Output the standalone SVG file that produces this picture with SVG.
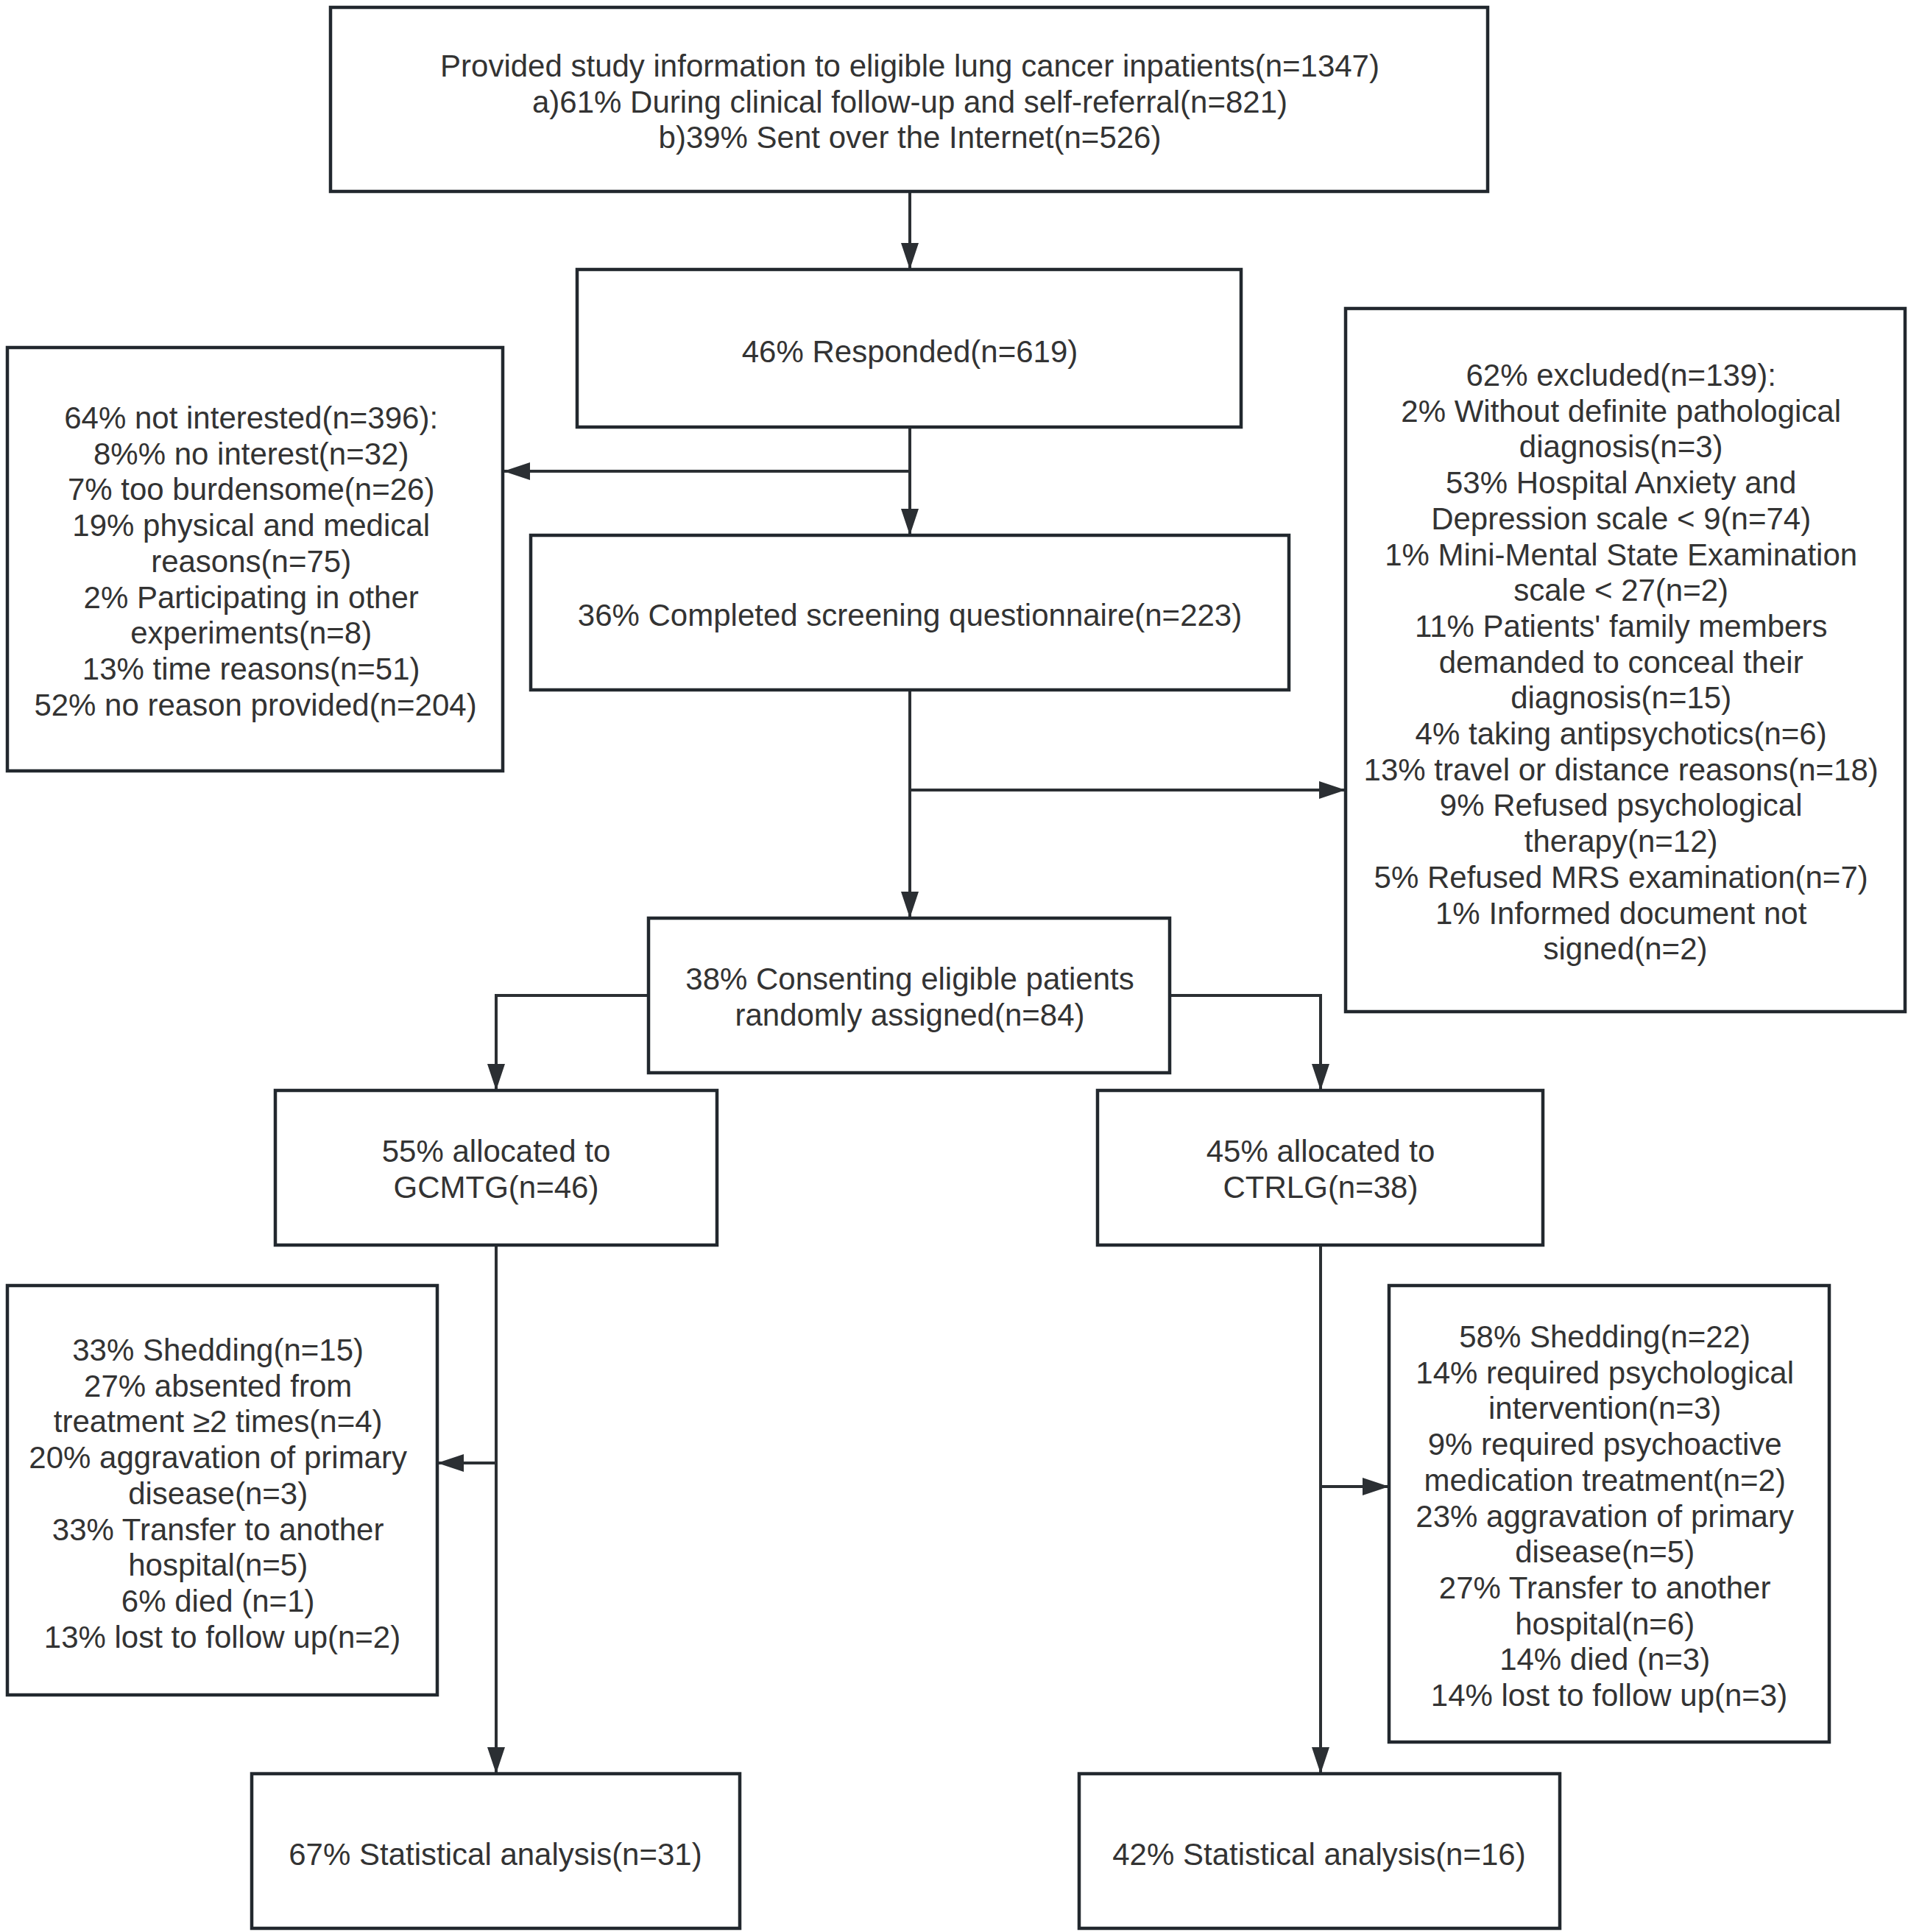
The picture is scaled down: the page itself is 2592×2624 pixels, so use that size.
<svg xmlns="http://www.w3.org/2000/svg" width="2592" height="2624" viewBox="0 0 2592 2624">
<defs>
<marker id="ah" markerUnits="userSpaceOnUse" markerWidth="36" markerHeight="26" refX="36" refY="12" orient="auto">
<path d="M0,0 L36,12 L0,24 z" fill="#2b2f33"/>
</marker>
<style>
.box{fill:#ffffff;stroke:#22282e;stroke-width:4.5}
.t{font-family:"Liberation Sans","Noto Sans",Arial,sans-serif;font-size:42px;fill:#333333;text-anchor:middle}
.c{fill:none;stroke:#2b2f33;stroke-width:4}
</style>
</defs>
<rect width="2592" height="2624" fill="#ffffff"/>
<g id="connectors">
<path class="c" d="M1236,260 V366" marker-end="url(#ah)"/>
<path class="c" d="M1236,580 V727" marker-end="url(#ah)"/>
<path class="c" d="M1236,640 H684" marker-end="url(#ah)"/>
<path class="c" d="M1236,937 V1247" marker-end="url(#ah)"/>
<path class="c" d="M1236,1073 H1828" marker-end="url(#ah)"/>
<path class="c" d="M881,1352 H674 V1481" marker-end="url(#ah)"/>
<path class="c" d="M1589,1352 H1794 V1481" marker-end="url(#ah)"/>
<path class="c" d="M674,1691 V2409" marker-end="url(#ah)"/>
<path class="c" d="M674,1987 H594" marker-end="url(#ah)"/>
<path class="c" d="M1794,1691 V2409" marker-end="url(#ah)"/>
<path class="c" d="M1794,2019 H1887" marker-end="url(#ah)"/>
</g>
<g id="n_provided">
<rect class="box" x="449" y="10" width="1572" height="250"/>
<text class="t" x="1236" y="104">Provided study information to eligible lung cancer inpatients(n=1347)</text>
<text class="t" x="1236" y="153">a)61% During clinical follow-up and self-referral(n=821)</text>
<text class="t" x="1236" y="201">b)39% Sent over the Internet(n=526)</text>
</g>
<g id="n_responded">
<rect class="box" x="784" y="366" width="902" height="214"/>
<text class="t" x="1236" y="492">46% Responded(n=619)</text>
</g>
<g id="n_notinterested">
<rect class="box" x="10" y="472" width="673" height="575"/>
<text class="t" x="347">
<tspan x="347" y="582">64% not interested(n=396):</tspan>
<tspan x="347" dy="48.7">8%% no interest(n=32)</tspan>
<tspan x="347" dy="48.7">7% too burdensome(n=26)</tspan>
<tspan x="347" dy="48.7">19% physical and medical</tspan>
<tspan x="347" dy="48.7">reasons(n=75)</tspan>
<tspan x="347" dy="48.7">2% Participating in other</tspan>
<tspan x="347" dy="48.7">experiments(n=8)</tspan>
<tspan x="347" dy="48.7">13% time reasons(n=51)</tspan>
<tspan x="347" dy="48.7">52% no reason provided(n=204)</tspan>
</text>
</g>
<g id="n_completed">
<rect class="box" x="721" y="727" width="1030" height="210"/>
<text class="t" x="1236" y="850">36% Completed screening questionnaire(n=223)</text>
</g>
<g id="n_excluded">
<rect class="box" x="1828" y="419" width="760" height="955"/>
<text class="t" x="2208">
<tspan x="2208" y="524">62% excluded(n=139):</tspan>
<tspan x="2208" dy="48.7">2% Without definite pathological</tspan>
<tspan x="2208" dy="48.7">diagnosis(n=3)</tspan>
<tspan x="2208" dy="48.7">53% Hospital Anxiety and</tspan>
<tspan x="2208" dy="48.7">Depression scale &lt; 9(n=74)</tspan>
<tspan x="2208" dy="48.7">1% Mini-Mental State Examination</tspan>
<tspan x="2208" dy="48.7">scale &lt; 27(n=2)</tspan>
<tspan x="2208" dy="48.7">11% Patients' family members</tspan>
<tspan x="2208" dy="48.7">demanded to conceal their</tspan>
<tspan x="2208" dy="48.7">diagnosis(n=15)</tspan>
<tspan x="2208" dy="48.7">4% taking antipsychotics(n=6)</tspan>
<tspan x="2208" dy="48.7">13% travel or distance reasons(n=18)</tspan>
<tspan x="2208" dy="48.7">9% Refused psychological</tspan>
<tspan x="2208" dy="48.7">therapy(n=12)</tspan>
<tspan x="2208" dy="48.7">5% Refused MRS examination(n=7)</tspan>
<tspan x="2208" dy="48.7">1% Informed document not</tspan>
<tspan x="2208" dy="48.7">signed(n=2)</tspan>
</text>
</g>
<g id="n_consenting">
<rect class="box" x="881" y="1247" width="708" height="210"/>
<text class="t" x="1236" y="1344">38% Consenting eligible patients</text>
<text class="t" x="1236" y="1393">randomly assigned(n=84)</text>
</g>
<g id="n_gcmtg">
<rect class="box" x="374" y="1481" width="600" height="210"/>
<text class="t" x="674" y="1578">55% allocated to</text>
<text class="t" x="674" y="1627">GCMTG(n=46)</text>
</g>
<g id="n_ctrlg">
<rect class="box" x="1491" y="1481" width="605" height="210"/>
<text class="t" x="1794" y="1578">45% allocated to</text>
<text class="t" x="1794" y="1627">CTRLG(n=38)</text>
</g>
<g id="n_shed_left">
<rect class="box" x="10" y="1746" width="584" height="556"/>
<text class="t" x="302">
<tspan x="302" y="1848">33% Shedding(n=15)</tspan>
<tspan x="302" dy="48.7">27% absented from</tspan>
<tspan x="302" dy="48.7">treatment ≥2 times(n=4)</tspan>
<tspan x="302" dy="48.7">20% aggravation of primary</tspan>
<tspan x="302" dy="48.7">disease(n=3)</tspan>
<tspan x="302" dy="48.7">33% Transfer to another</tspan>
<tspan x="302" dy="48.7">hospital(n=5)</tspan>
<tspan x="302" dy="48.7">6% died (n=1)</tspan>
<tspan x="302" dy="48.7">13% lost to follow up(n=2)</tspan>
</text>
</g>
<g id="n_shed_right">
<rect class="box" x="1887" y="1746" width="598" height="620"/>
<text class="t" x="2186">
<tspan x="2186" y="1830">58% Shedding(n=22)</tspan>
<tspan x="2186" dy="48.7">14% required psychological</tspan>
<tspan x="2186" dy="48.7">intervention(n=3)</tspan>
<tspan x="2186" dy="48.7">9% required psychoactive</tspan>
<tspan x="2186" dy="48.7">medication treatment(n=2)</tspan>
<tspan x="2186" dy="48.7">23% aggravation of primary</tspan>
<tspan x="2186" dy="48.7">disease(n=5)</tspan>
<tspan x="2186" dy="48.7">27% Transfer to another</tspan>
<tspan x="2186" dy="48.7">hospital(n=6)</tspan>
<tspan x="2186" dy="48.7">14% died (n=3)</tspan>
<tspan x="2186" dy="48.7">14% lost to follow up(n=3)</tspan>
</text>
</g>
<g id="n_stats_left">
<rect class="box" x="342" y="2409" width="663" height="210"/>
<text class="t" x="673" y="2533">67% Statistical analysis(n=31)</text>
</g>
<g id="n_stats_right">
<rect class="box" x="1466" y="2409" width="653" height="210"/>
<text class="t" x="1792" y="2533">42% Statistical analysis(n=16)</text>
</g>
</svg>
